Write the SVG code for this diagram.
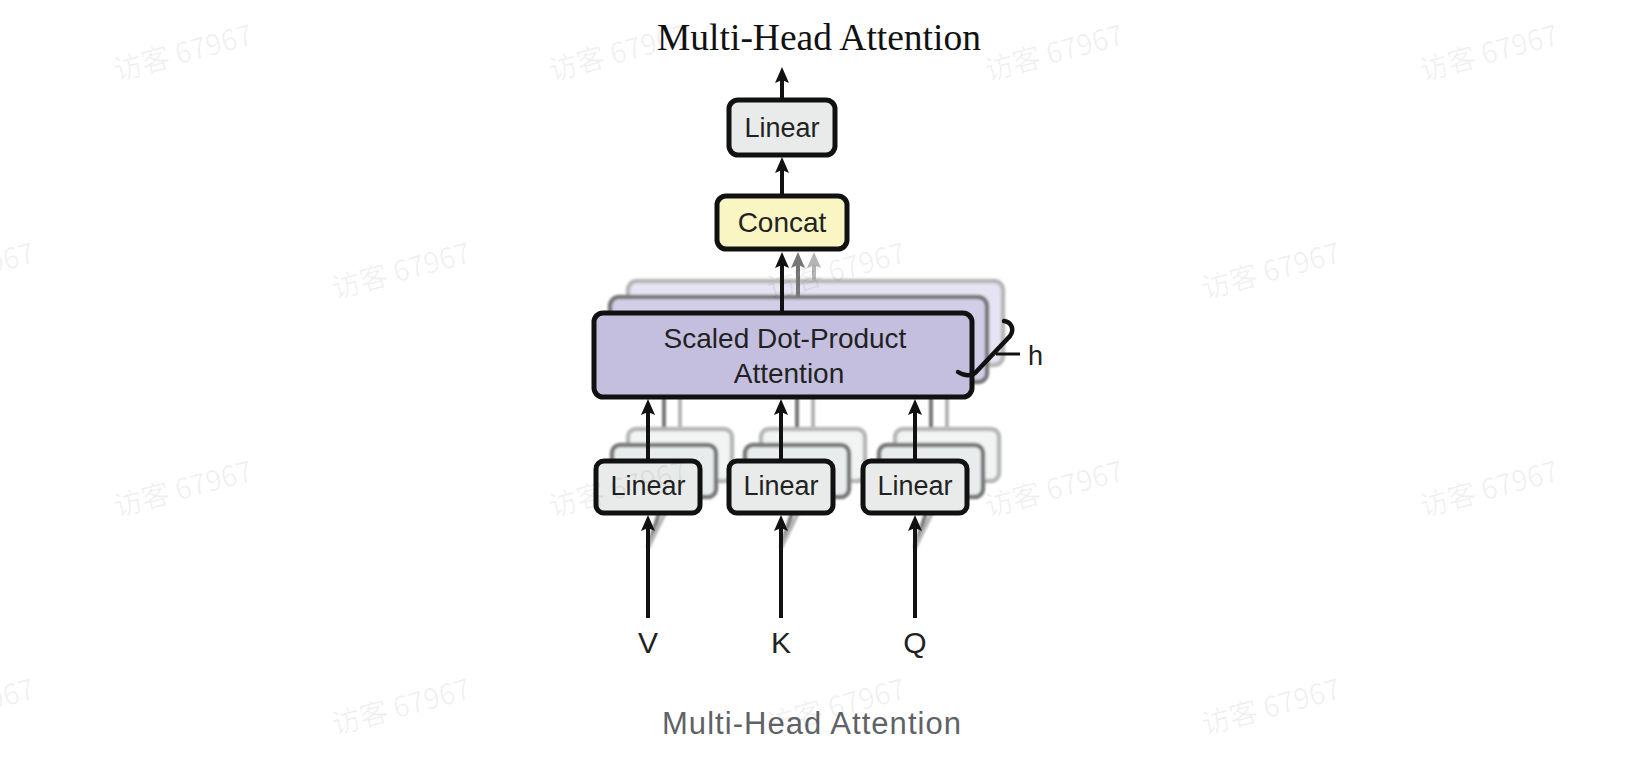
<svg xmlns="http://www.w3.org/2000/svg" width="1626" height="764" viewBox="0 0 1626 764">
  <defs>
    <style>
      .lbl { font-family: "Liberation Sans", Arial, sans-serif; fill: #222; }
      .box { stroke: #111; stroke-width: 5; }
      .back1 { stroke: #7a7a7a; stroke-width: 4.5; }
      .back2 { stroke: #b8b8b8; stroke-width: 4.5; }
      .lin { fill: #e8ebea; }
      .lin1 { fill: #e9ecec; }
      .lin2 { fill: #f2f3f3; }
      .sdpa { fill: #c5bfdf; }
      .sdpa1 { fill: #d3cee8; }
      .sdpa2 { fill: #e6e3f2; }
      .wire { stroke: #111; stroke-width: 4; fill: none; }
      .wire1 { stroke: #777; stroke-width: 4; fill: none; }
      .wire2 { stroke: #b5b5b5; stroke-width: 4; fill: none; }
      .soft { filter: url(#soft); }
      .wm { font-family: "Noto Sans CJK SC", "Liberation Sans", sans-serif; font-size: 28.5px; fill: #000; fill-opacity: 0.06; }
    </style>
    <filter id="soft" x="-5%" y="-5%" width="110%" height="110%">
      <feGaussianBlur stdDeviation="0.9"/>
    </filter>
    <marker id="ah" viewBox="0 0 16 14" refX="3" refY="7" markerWidth="16" markerHeight="14" markerUnits="userSpaceOnUse" orient="auto">
      <path d="M0,0 L16,7 L0,14 L3,7 z" fill="#111"/>
    </marker>
    <marker id="ah1" viewBox="0 0 16 14" refX="3" refY="7" markerWidth="16" markerHeight="14" markerUnits="userSpaceOnUse" orient="auto">
      <path d="M0,0 L16,7 L0,14 L3,7 z" fill="#777"/>
    </marker>
    <marker id="ah2" viewBox="0 0 16 14" refX="3" refY="7" markerWidth="16" markerHeight="14" markerUnits="userSpaceOnUse" orient="auto">
      <path d="M0,0 L16,7 L0,14 L3,7 z" fill="#b5b5b5"/>
    </marker>
  </defs>

  <rect width="1626" height="764" fill="#fff"/>

  <!-- title -->
  <text x="819" y="50" text-anchor="middle" font-family="'Liberation Serif', 'Times New Roman', serif" font-size="37.5" fill="#111">Multi-Head Attention</text>

  <!-- wires from the stacked (back) heads, drawn beneath the boxes -->
  <g id="back-wires" class="soft">
    <!-- into the back linear layers -->
    <path class="wire1" d="M648,548 L664,497 M781,548 L797,497 M915,548 L931,497"/>
    <path class="wire2" d="M648,548 L680,482 M781,548 L813,482 M915,548 L947,482"/>
    <!-- back linear layers up to the back attention layers -->
    <path class="wire1" d="M664,445 V385 M797,445 V385 M931,445 V385"/>
    <path class="wire2" d="M680,428 V370 M813,428 V370 M947,428 V370"/>
  </g>

  <!-- stacked copies of the attention block -->
  <g id="sdpa-stack" class="soft">
    <rect class="back2 sdpa2" x="628" y="281" width="375" height="84" rx="9"/>
    <rect class="back1 sdpa1" x="610" y="297" width="377" height="85" rx="9"/>
  </g>

  <!-- stacked copies of the linear projections -->
  <g id="linear-stacks" class="soft">
    <rect class="back2 lin2" x="628" y="429" width="104" height="52" rx="8"/>
    <rect class="back1 lin1" x="612" y="445" width="104" height="52" rx="8"/>
    <rect class="back2 lin2" x="761" y="429" width="104" height="52" rx="8"/>
    <rect class="back1 lin1" x="745" y="445" width="104" height="52" rx="8"/>
    <rect class="back2 lin2" x="895" y="429" width="104" height="52" rx="8"/>
    <rect class="back1 lin1" x="879" y="445" width="104" height="52" rx="8"/>
  </g>

  <!-- connectors -->
  <g id="connectors">
    <path class="wire" d="M782,100 V80" marker-end="url(#ah)"/>
    <path class="wire" d="M782,196 V170" marker-end="url(#ah)"/>
    <path class="wire" d="M782,313 V265" marker-end="url(#ah)"/>
    <path class="wire1" d="M798,297 V265" marker-end="url(#ah1)"/>
    <path class="wire2" d="M814,281 V265" marker-end="url(#ah2)"/>
    <path class="wire" d="M648,461 V412" marker-end="url(#ah)"/>
    <path class="wire" d="M781,461 V412" marker-end="url(#ah)"/>
    <path class="wire" d="M915,461 V412" marker-end="url(#ah)"/>
    <path class="wire" d="M648,618 V528" marker-end="url(#ah)"/>
    <path class="wire" d="M781,618 V528" marker-end="url(#ah)"/>
    <path class="wire" d="M915,618 V528" marker-end="url(#ah)"/>
  </g>

  <g id="linear-out">
    <rect class="box lin" x="729" y="100" width="106" height="55" rx="9"/>
    <text class="lbl" x="782" y="137" font-size="27" text-anchor="middle">Linear</text>
  </g>

  <g id="concat">
    <rect class="box" fill="#faf6c4" x="717" y="196" width="130" height="53" rx="9"/>
    <text class="lbl" x="782" y="232" font-size="28" text-anchor="middle">Concat</text>
  </g>

  <g id="attention">
    <rect class="box sdpa" x="594" y="313" width="378" height="84" rx="9"/>
    <text class="lbl" x="785" y="348" font-size="28" text-anchor="middle">Scaled Dot-Product</text>
    <text class="lbl" x="789" y="383" font-size="28" text-anchor="middle">Attention</text>
  </g>

  <g id="heads-brace">
    <path d="M1004,321 C1011,322 1015,329 1010,336 L977,371 C972,377 964,376 958,372" fill="none" stroke="#111" stroke-width="4.5" stroke-linecap="round"/>
    <path d="M996,354 H1020" stroke="#111" stroke-width="3"/>
    <text class="lbl" x="1028" y="365" font-size="27">h</text>
  </g>

  <g id="linear-v">
    <rect class="box lin" x="596" y="461" width="104" height="52" rx="8"/>
    <text class="lbl" x="648" y="495" font-size="27" text-anchor="middle">Linear</text>
  </g>
  <g id="linear-k">
    <rect class="box lin" x="729" y="461" width="104" height="52" rx="8"/>
    <text class="lbl" x="781" y="495" font-size="27" text-anchor="middle">Linear</text>
  </g>
  <g id="linear-q">
    <rect class="box lin" x="863" y="461" width="104" height="52" rx="8"/>
    <text class="lbl" x="915" y="495" font-size="27" text-anchor="middle">Linear</text>
  </g>

  <g id="inputs">
    <text class="lbl" x="648" y="653" font-size="30" text-anchor="middle">V</text>
    <text class="lbl" x="781" y="653" font-size="30" text-anchor="middle">K</text>
    <text class="lbl" x="915" y="653" font-size="30" text-anchor="middle">Q</text>
  </g>

  <!-- caption -->
  <text x="811.5" y="734" text-anchor="middle" font-family="'Liberation Sans', Arial, sans-serif" font-size="31" fill="#5f6368" textLength="299" lengthAdjust="spacing">Multi-Head Attention</text>

  <!-- tiled watermark -->
  <g id="watermark">
    <text class="wm" x="117" y="81" transform="rotate(-15 117 81)">访客 67967</text>
    <text class="wm" x="552" y="81" transform="rotate(-15 552 81)">访客 67967</text>
    <text class="wm" x="988" y="81" transform="rotate(-15 988 81)">访客 67967</text>
    <text class="wm" x="1423" y="81" transform="rotate(-15 1423 81)">访客 67967</text>
    <text class="wm" x="-101" y="299" transform="rotate(-15 -101 299)">访客 67967</text>
    <text class="wm" x="335" y="299" transform="rotate(-15 335 299)">访客 67967</text>
    <text class="wm" x="770" y="299" transform="rotate(-15 770 299)">访客 67967</text>
    <text class="wm" x="1205" y="299" transform="rotate(-15 1205 299)">访客 67967</text>
    <text class="wm" x="117" y="517" transform="rotate(-15 117 517)">访客 67967</text>
    <text class="wm" x="552" y="517" transform="rotate(-15 552 517)">访客 67967</text>
    <text class="wm" x="988" y="517" transform="rotate(-15 988 517)">访客 67967</text>
    <text class="wm" x="1423" y="517" transform="rotate(-15 1423 517)">访客 67967</text>
    <text class="wm" x="-101" y="735" transform="rotate(-15 -101 735)">访客 67967</text>
    <text class="wm" x="335" y="735" transform="rotate(-15 335 735)">访客 67967</text>
    <text class="wm" x="770" y="735" transform="rotate(-15 770 735)">访客 67967</text>
    <text class="wm" x="1205" y="735" transform="rotate(-15 1205 735)">访客 67967</text>
  </g>
</svg>
